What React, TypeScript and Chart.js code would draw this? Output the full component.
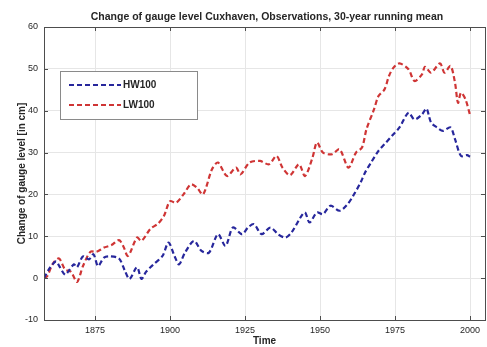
import React, { useEffect, useRef } from "react";
import { Chart, registerables } from "chart.js";

Chart.register(...registerables);

const chartTitle = "Change of gauge level Cuxhaven, Observations, 30-year running mean";
const xTitle = "Time";
const yTitle = "Change of gauge level [in cm]";
const xTicks = [1875, 1900, 1925, 1950, 1975, 2000];
const yTicks = [-10, 0, 10, 20, 30, 40, 50, 60];

const hwLabel = "HW100";
const hwYears = [1858, 1860, 1862, 1863, 1865, 1866, 1868, 1869, 1871, 1873, 1874.5, 1876, 1878, 1880, 1883, 1885, 1886.5, 1889, 1890.5, 1892, 1894.5, 1897.5, 1899.5, 1901.5, 1903, 1905, 1908, 1910.5, 1913, 1916, 1918.5, 1921, 1924, 1926, 1928, 1930.5, 1933.5, 1936, 1938.5, 1940.5, 1943.5, 1945, 1946.5, 1949, 1951, 1953.5, 1956.5, 1959, 1961, 1963.5, 1965, 1967, 1969.5, 1971.5, 1974, 1976.5, 1979.5, 1981.5, 1984, 1985.5, 1987, 1989, 1991, 1993.5, 1995, 1997, 1999, 2000];
const hwValues = [0, 2.5, 4.0, 3.0, 0.8, 1.5, 3.3, 2.6, 5.2, 4.5, 5.7, 2.9, 4.9, 5.2, 4.7, 1.7, -0.2, 2.6, -0.2, 1.5, 3.3, 5.3, 8.5, 5.3, 3.3, 6.1, 8.9, 6.5, 6.1, 10.5, 7.7, 12.1, 10.5, 12.1, 12.9, 10.5, 12.1, 10.5, 9.7, 10.9, 14.5, 15.7, 13.3, 15.7, 15.3, 17.3, 16.1, 17.5, 19.6, 22.8, 25.2, 27.6, 30.4, 32, 34, 36, 39.5, 37.9, 39.1, 40.5, 37.2, 36, 35.2, 36, 33.2, 29.2, 29.4, 29];

const lwLabel = "LW100";
const lwYears = [1858, 1859, 1861, 1863, 1865, 1867, 1869, 1871, 1873.5, 1875.5, 1878, 1880.5, 1883, 1884.5, 1886, 1889, 1890.5, 1893.5, 1896, 1898, 1900, 1902, 1904.5, 1907, 1909, 1911, 1914, 1916, 1919, 1922, 1923.5, 1926.5, 1930, 1933, 1935.5, 1937.5, 1940, 1943, 1945, 1947.5, 1949, 1951, 1954, 1956.5, 1959.5, 1962, 1964, 1965.5, 1968, 1969.5, 1971.5, 1973, 1974.5, 1976.5, 1979.5, 1981.5, 1984, 1985, 1987, 1990, 1991.5, 1993.5, 1995, 1996, 1997, 1998.5, 2000];
const lwValues = [0, 0.4, 3.5, 4.7, 2.1, 1.5, -0.9, 2.9, 6.3, 6.3, 7.3, 7.9, 9.1, 7.5, 5.3, 9.7, 8.9, 11.8, 13, 14.9, 18.4, 18, 20, 22.4, 21.6, 20, 26, 27.6, 24.4, 26.4, 24.8, 27.6, 28, 27.2, 29.2, 26.4, 24.6, 27.2, 24.4, 28.8, 32.4, 30, 29.6, 30.8, 26.4, 30, 31.2, 35.6, 40.3, 43.5, 45.1, 48.3, 50.3, 51.3, 49.9, 47.1, 48.7, 50.5, 49.1, 51.3, 49.1, 50.7, 46.7, 41.9, 44.3, 42.7, 39];

const HW_COLOR = "#27279c";
const LW_COLOR = "#cf3535";
const DASH = [5, 3];
const FONT = "'Liberation Sans', Arial, sans-serif";
const TEXT = "#262626";

const overlayPlugin = {
  id: "overlay",
  afterDraw(chart: any) {
    const ctx = chart.ctx;
    const a = chart.chartArea;
    const xs = chart.scales.x;
    const ys = chart.scales.y;
    ctx.save();
    // box
    ctx.strokeStyle = "#4d4d4d";
    ctx.lineWidth = 1;
    ctx.setLineDash([]);
    ctx.strokeRect(Math.round(a.left) + 0.5, Math.round(a.top) + 0.5, Math.round(a.right - a.left), Math.round(a.bottom - a.top));
    // inward ticks
    ctx.beginPath();
    xTicks.forEach((t) => {
      const px = Math.round(xs.getPixelForValue(t)) + 0.5;
      ctx.moveTo(px, a.bottom);
      ctx.lineTo(px, a.bottom - 4);
      ctx.moveTo(px, a.top);
      ctx.lineTo(px, a.top + 4);
    });
    yTicks.forEach((t) => {
      const py = Math.round(ys.getPixelForValue(t)) + 0.5;
      ctx.moveTo(a.left, py);
      ctx.lineTo(a.left + 4, py);
      ctx.moveTo(a.right, py);
      ctx.lineTo(a.right - 4, py);
    });
    ctx.stroke();
    // title
    ctx.fillStyle = TEXT;
    ctx.font = "bold 10.5px " + FONT;
    ctx.textAlign = "center";
    ctx.textBaseline = "middle";
    ctx.fillText(chartTitle, 267, 17);
    // legend
    const lx = 60, ly = 71, lw = 137, lh = 48;
    ctx.fillStyle = "#ffffff";
    ctx.fillRect(lx, ly, lw, lh);
    ctx.strokeStyle = "#8a8a8a";
    ctx.strokeRect(lx + 0.5, ly + 0.5, lw, lh);
    const items = [
      { label: hwLabel, color: HW_COLOR, y: ly + 14 },
      { label: lwLabel, color: LW_COLOR, y: ly + 34 },
    ];
    items.forEach((it) => {
      ctx.strokeStyle = it.color;
      ctx.lineWidth = 2.2;
      ctx.setLineDash(DASH);
      ctx.beginPath();
      ctx.moveTo(lx + 9, it.y);
      ctx.lineTo(lx + 61, it.y);
      ctx.stroke();
      ctx.setLineDash([]);
      ctx.fillStyle = TEXT;
      ctx.font = "bold 10px " + FONT;
      ctx.textAlign = "left";
      ctx.fillText(it.label, lx + 63, it.y + 0.5);
    });
    ctx.restore();
  },
};

export default function App() {
  const ref = useRef<HTMLCanvasElement | null>(null);
  useEffect(() => {
    document.body.style.margin = "0";
    const canvas = ref.current;
    if (!canvas) return;
    const chart = new Chart(canvas, {
      type: "line",
      data: {
        datasets: [
          {
            label: hwLabel,
            data: hwYears.map((x, i) => ({ x, y: hwValues[i] })),
            borderColor: HW_COLOR,
            borderWidth: 2.2,
            borderDash: DASH,
            pointRadius: 0,
            tension: 0.3,
            fill: false,
          },
          {
            label: lwLabel,
            data: lwYears.map((x, i) => ({ x, y: lwValues[i] })),
            borderColor: LW_COLOR,
            borderWidth: 2.2,
            borderDash: DASH,
            pointRadius: 0,
            tension: 0.3,
            fill: false,
          },
        ],
      },
      options: {
        responsive: false,
        animation: false,
        layout: { padding: { top: 27, left: 0, right: 2, bottom: 0 } },
        plugins: {
          legend: { display: false },
          title: { display: false },
          tooltip: { enabled: false },
        },
        scales: {
          x: {
            type: "linear",
            min: 1858,
            max: 2005,
            afterBuildTicks: (s: any) => {
              s.ticks = xTicks.map((v) => ({ value: v }));
            },
            afterFit: (s: any) => {
              s.height = 27;
            },
            grid: { color: "#e6e6e6", drawTicks: false },
            border: { display: false },
            ticks: {
              padding: 5,
              color: TEXT,
              font: { family: FONT, size: 9 },
              maxRotation: 0,
              callback: (v: any) => String(v),
            },
            title: {
              display: true,
              text: xTitle,
              color: TEXT,
              font: { family: FONT, size: 10, weight: "bold" },
              padding: { top: 0, bottom: 0 },
            },
          },
          y: {
            type: "linear",
            min: -10,
            max: 60,
            afterBuildTicks: (s: any) => {
              s.ticks = yTicks.map((v) => ({ value: v }));
            },
            afterFit: (s: any) => {
              s.width = 44;
            },
            grid: { color: "#e6e6e6", drawTicks: false },
            border: { display: false },
            ticks: {
              padding: 6,
              color: TEXT,
              font: { family: FONT, size: 9 },
              callback: (v: any) => String(v),
            },
            title: {
              display: true,
              text: yTitle,
              color: TEXT,
              font: { family: FONT, size: 10, weight: "bold" },
              padding: { top: 16, bottom: 0 },
            },
          },
        },
      },
      plugins: [overlayPlugin],
    });
    return () => chart.destroy();
  }, []);
  return (
    <div style={{ position: "fixed", left: 0, top: 0, width: 487, height: 347, background: "#fff" }}>
      <canvas ref={ref} width={487} height={347} style={{ display: "block" }} />
    </div>
  );
}
